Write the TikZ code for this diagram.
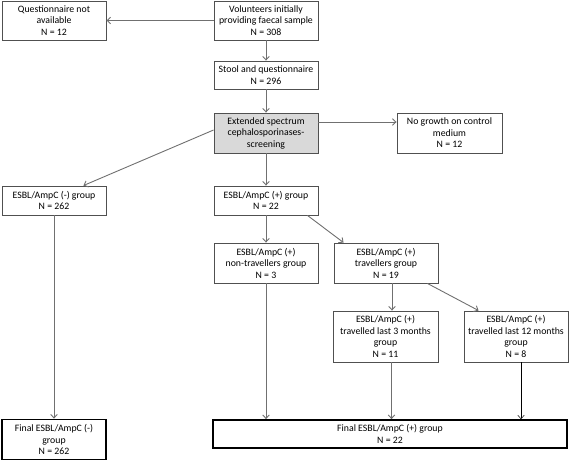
\documentclass[tikz,border=0pt]{standalone}
\usepackage{fontspec}
\setmainfont{Carlito}
\usetikzlibrary{arrows.meta}
\definecolor{boxline}{HTML}{505050}
\definecolor{flowline}{HTML}{707070}
\definecolor{screengray}{HTML}{D9D9D9}
\begin{document}
\begin{tikzpicture}[x=1pt,y=-1pt]
    \tikzset{
        box/.style={draw=boxline,line width=0.9pt,fill=white,rectangle,align=center,
            inner sep=0pt,minimum width=104pt,font=\fontsize{9.8}{11.5}\selectfont},
        finalbox/.style={box,draw=black,line width=1.8pt},
        flow/.style={draw=flowline,line width=0.9pt,-{Straight Barb[length=3.5pt,width=6.5pt]}}
    }
    \useasboundingbox (0,0) rectangle (569,461);
    \node[box,minimum height=39pt] (quest) at (54,20.5) {Questionnaire not\\available\\N = 12};
    \node[box,minimum height=39pt] (vol) at (266,20.5) {Volunteers initially\\providing faecal sample\\N = 308};
    \node[box,minimum height=28pt] (stool) at (266,75) {Stool and questionnaire\\N = 296};
    \node[box,fill=screengray,minimum height=40pt] (screen) at (266,133) {Extended spectrum\\cephalosporinases-\\screening};
    \node[box,minimum width=105pt,minimum height=40pt] (nogrowth) at (449.5,133) {No growth on control\\medium\\N = 12};
    \node[box,minimum height=29pt] (neg) at (54,200.5) {ESBL/AmpC (-) group\\N = 262};
    \node[box,minimum height=29pt] (pos) at (266,200.5) {ESBL/AmpC (+) group\\N = 22};
    \node[box,minimum height=40pt] (nontrav) at (266,263) {ESBL/AmpC (+)\\non-travellers group\\N = 3};
    \node[box,minimum height=40pt] (trav) at (386,263) {ESBL/AmpC (+)\\travellers group\\N = 19};
    \node[box,minimum width=105pt,minimum height=51pt] (three) at (385.5,336.5) {ESBL/AmpC (+)\\travelled last 3 months\\group\\N = 11};
    \node[box,minimum height=51pt] (twelve) at (516,336.5) {ESBL/AmpC (+)\\travelled last 12 months\\group\\N = 8};
    \node[finalbox,minimum height=40pt] (finalneg) at (54,439.5) {Final ESBL/AmpC (-)\\group\\N = 262};
    \node[finalbox,minimum width=354pt,minimum height=28pt] (finalpos) at (390,434) {Final ESBL/AmpC (+) group\\N = 22};

    \draw[flow] (vol.west) -- (quest.east);
    \draw[flow] (vol.south) -- (stool.north);
    \draw[flow] (stool.south) -- (screen.north);
    \draw[flow] ([yshift=11pt]screen.east) -- ([yshift=11pt]screen.east -| nogrowth.west);
    \draw[flow] ([yshift=3pt]screen.west) -- ([xshift=-23pt]neg.north east);
    \draw[flow] (screen.south) -- (pos.north);
    \draw[flow] (pos.south) -- (nontrav.north);
    \draw[flow] ([xshift=-11pt]pos.south east) -- ([xshift=10pt]trav.north west);
    \draw[flow] ([xshift=6pt]trav.south) -- ([xshift=6pt]trav.south |- three.north);
    \draw[flow] ([xshift=-11pt]trav.south east) -- ([xshift=15pt]twelve.north west);
    \draw[flow] (neg.south) -- (finalneg.north);
    \draw[flow] (nontrav.south) -- (nontrav.south |- finalpos.north);
    \draw[flow] ([xshift=6pt]three.south) -- ([xshift=6pt]three.south |- finalpos.north);
    \draw[flow,draw=black,line width=0.5pt] ([xshift=5pt]twelve.south) -- ([xshift=5pt]twelve.south |- finalpos.north);
\end{tikzpicture}
\end{document}
